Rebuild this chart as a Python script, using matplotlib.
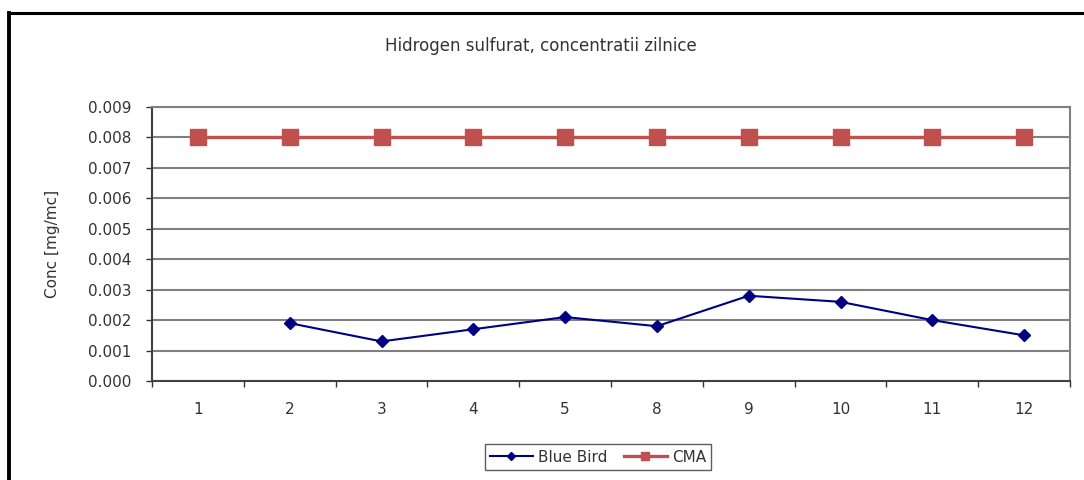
import numpy as np
import matplotlib
matplotlib.use("Agg")
import matplotlib.pyplot as plt
from matplotlib.lines import Line2D

plt.rcParams['font.family'] = ['DejaVu Sans']

categories = ["1", "2", "3", "4", "5", "8", "9", "10", "11", "12"]
blue_bird = [np.nan, 0.0019, 0.0013, 0.0017, 0.0021, 0.0018, 0.0028, 0.0026, 0.0020, 0.0015]
cma = [0.008, 0.008, 0.008, 0.008, 0.008, 0.008, 0.008, 0.008, 0.008, 0.008]
yticks = [0.000, 0.001, 0.002, 0.003, 0.004, 0.005, 0.006, 0.007, 0.008, 0.009]

W, H = 1084, 480
TXT = '#333333'
fig = plt.figure(figsize=(W / 100, H / 100), dpi=100)
fig.patch.set_facecolor('white')

ax = fig.add_axes([152 / W, 1 - 381 / H, (1070 - 152) / W, (381 - 107) / H])
x = np.arange(len(categories))

for yv in yticks[1:]:
    ax.axhline(yv, color='#808080', lw=1.5, zorder=1)

ax.plot(x, cma, color='#C0504D', lw=2.4, marker='s', markersize=11,
        markerfacecolor='#C0504D', markeredgecolor='#C0504D', label='CMA', zorder=3)
ax.plot(x, blue_bird, color='#000080', lw=1.5, marker='D', markersize=6,
        markerfacecolor='#000080', markeredgecolor='#000080', label='Blue Bird', zorder=4)

ax.set_xlim(-0.5, len(categories) - 0.5)
ax.set_ylim(0, 0.009)
ax.set_yticks(yticks)
ax.set_yticklabels([f"{v:.3f}" for v in yticks])
ax.set_xticks(x)
ax.set_xticklabels(categories)
ax.set_xticks(np.arange(len(categories) + 1) - 0.5, minor=True)
ax.tick_params(axis='x', which='major', length=0, pad=15, labelsize=11, colors=TXT)
ax.tick_params(axis='x', which='minor', length=4, width=1, color='#333333', direction='out')
ax.tick_params(axis='y', length=4.5, width=1, color='#333333', labelsize=11,
               labelcolor=TXT, pad=10)
for s in ['left', 'bottom']:
    ax.spines[s].set_color('#404040')
    ax.spines[s].set_linewidth(1.5)
for s in ['top', 'right']:
    ax.spines[s].set_color('#808080')
    ax.spines[s].set_linewidth(1.5)

ax.set_ylabel("Conc [mg/mc]", fontsize=11, color=TXT)
ax.yaxis.set_label_coords((60 - 152) / (1070 - 152), 0.5)
fig.text(541 / W, 1 - 46 / H, "Hidrogen sulfurat, concentratii zilnice",
         ha='center', va='center', fontsize=12, color=TXT)

handles, labels = ax.get_legend_handles_labels()
leg = fig.legend(handles[::-1], labels[::-1], loc='center',
                 bbox_to_anchor=(598 / W, 1 - 457 / H), ncol=2, fontsize=11,
                 frameon=True, fancybox=False, handlelength=2.8,
                 columnspacing=1.1, handletextpad=0.33, borderpad=0.35)
leg.get_frame().set_edgecolor('#333333')
leg.get_frame().set_linewidth(1.0)
for t in leg.get_texts():
    t.set_color(TXT)
lh = leg.legend_handles
lh[0].set_markersize(4.5)
lh[1].set_markersize(6)

# outer frame (top and left edges visible)
fig.add_artist(Line2D([9 / W, 1.0], [1 - 13 / H, 1 - 13 / H], color='black', lw=2.2,
                      transform=fig.transFigure))
fig.add_artist(Line2D([9 / W, 9 / W], [0.0, 1 - 13 / H], color='black', lw=2.8,
                      transform=fig.transFigure))

fig.savefig("out.png", dpi=100, facecolor='white')
